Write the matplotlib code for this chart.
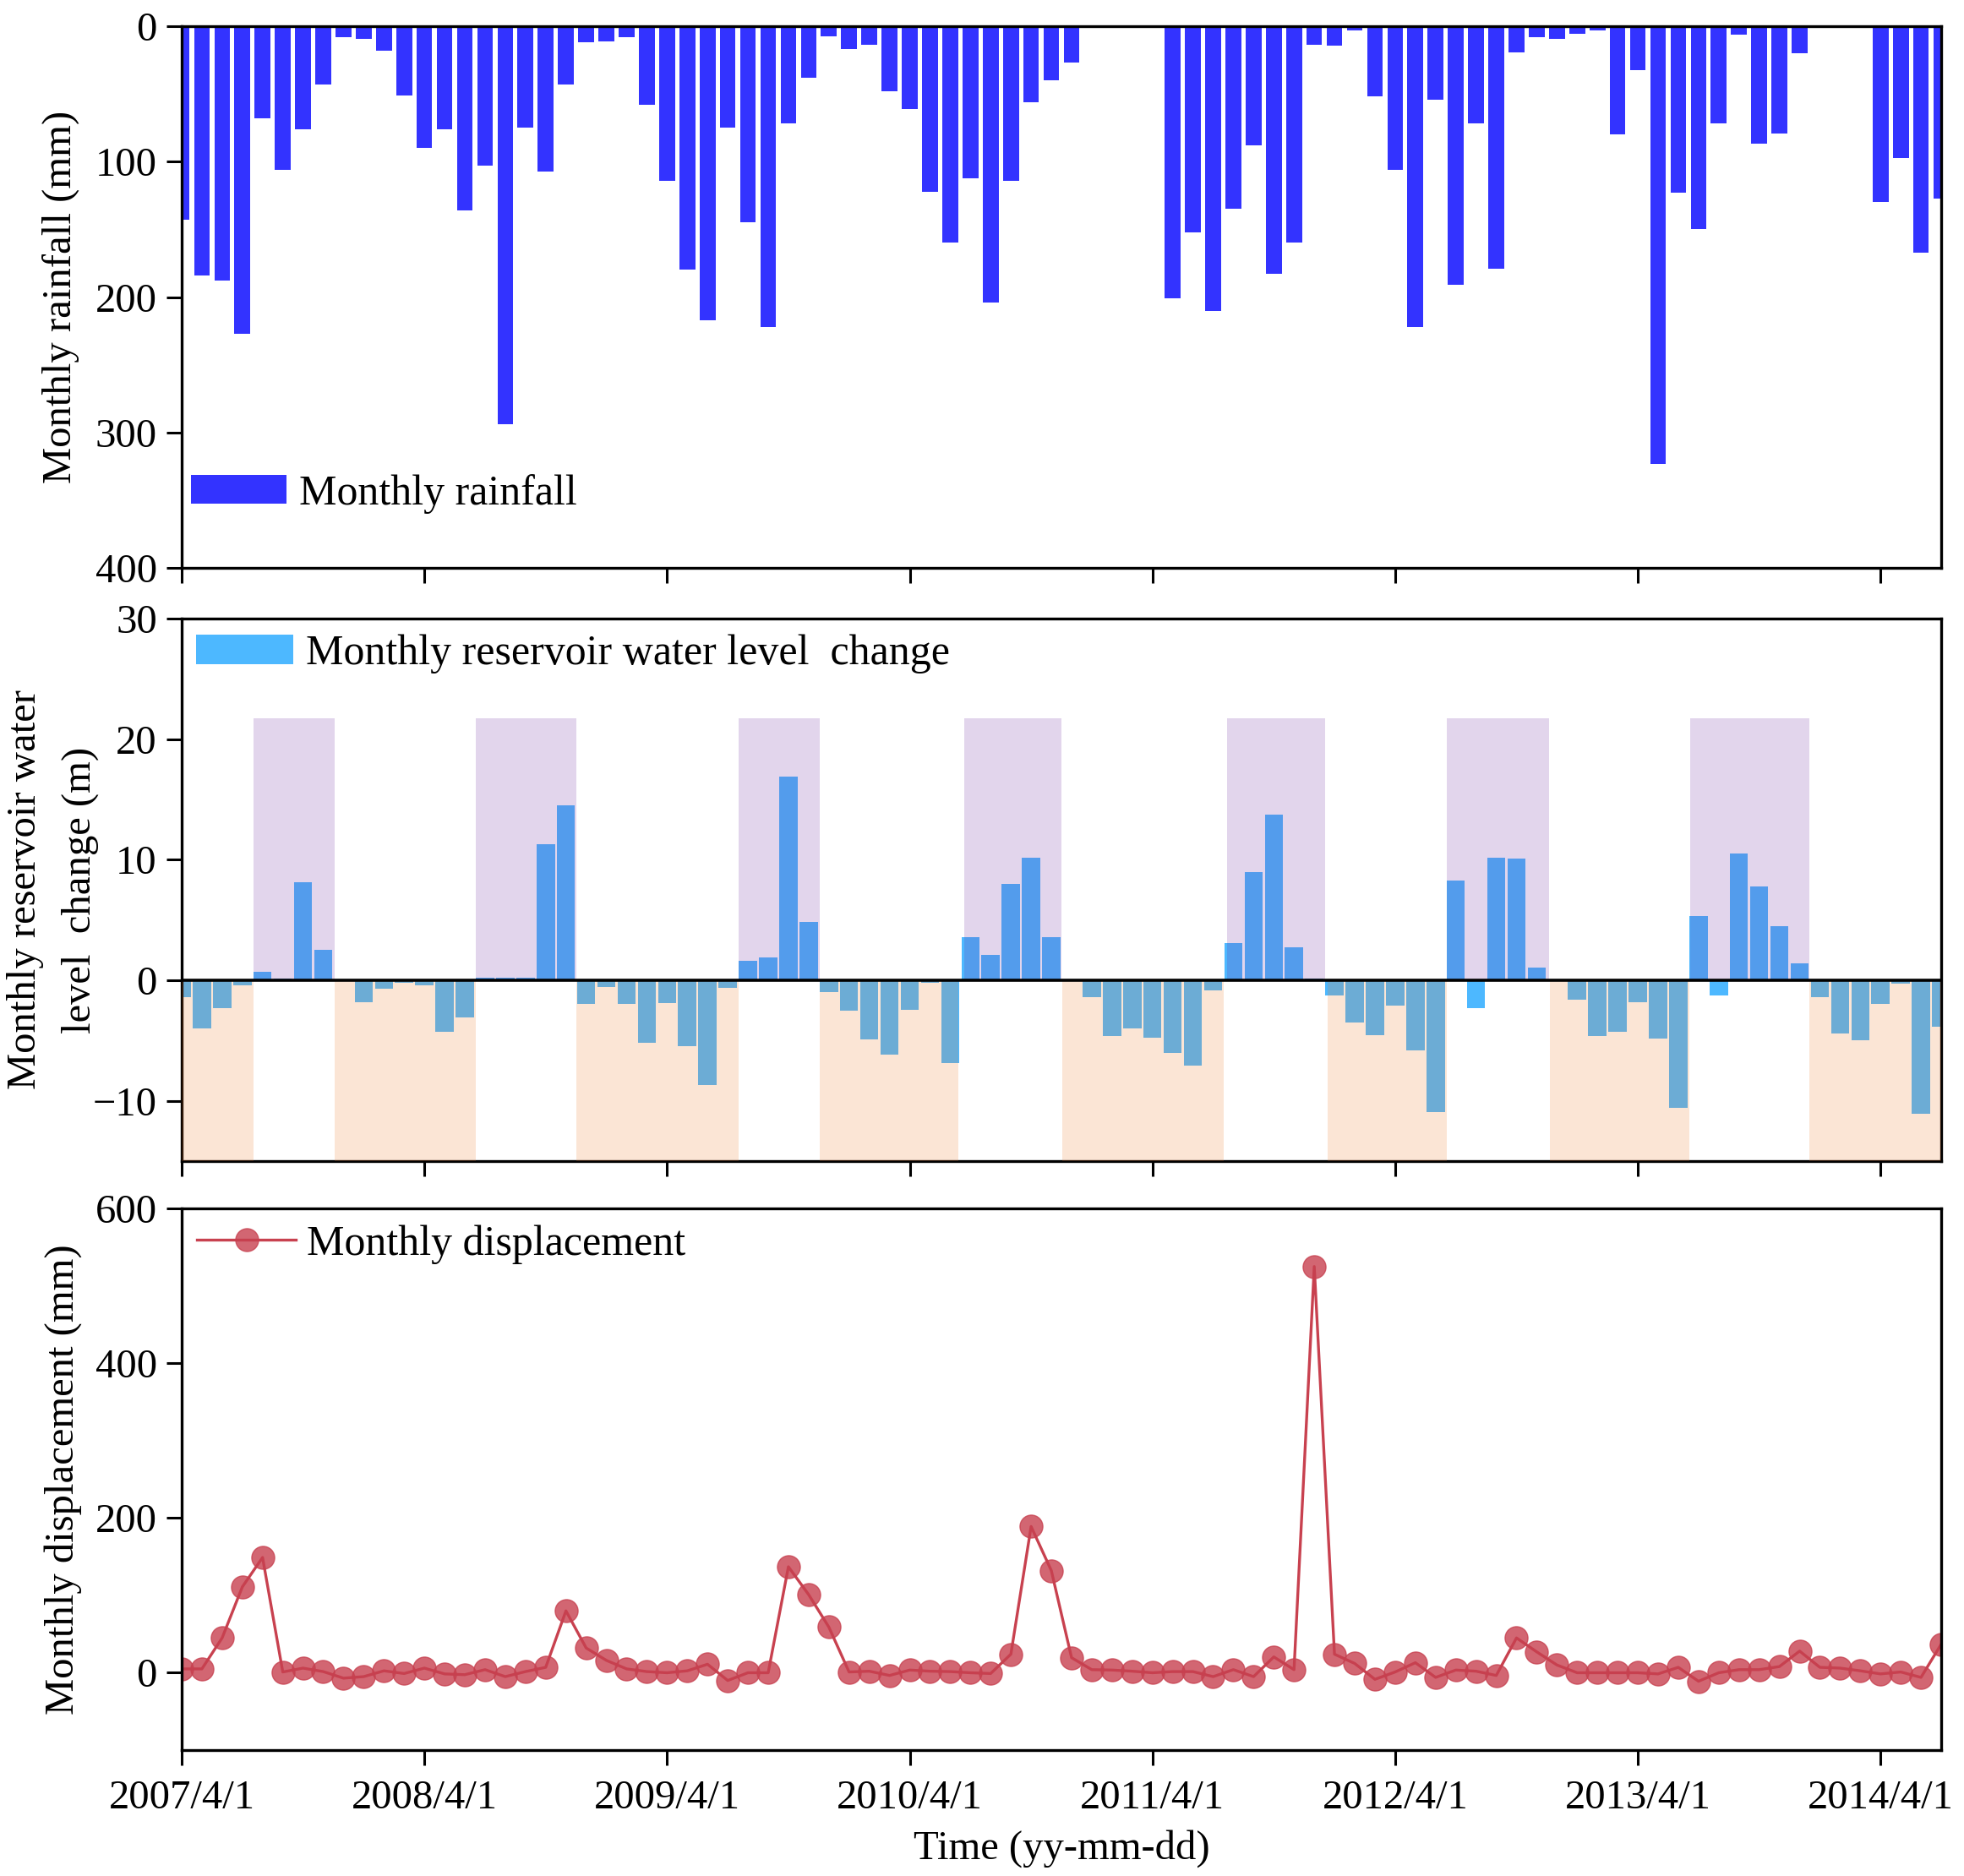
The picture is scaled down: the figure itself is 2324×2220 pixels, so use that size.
import numpy as np
import matplotlib
matplotlib.use("Agg")
import matplotlib.pyplot as plt

plt.rcParams['font.family'] = ['Liberation Serif', 'DejaVu Serif']
plt.rcParams['font.size'] = 35

# months counted from 2007/4/1 (index 0) to 2014/7/1 (index 87)
tick_months = [0, 12, 24, 36, 48, 60, 72, 84]
tick_labels = ['2007/4/1', '2008/4/1', '2009/4/1', '2010/4/1',
               '2011/4/1', '2012/4/1', '2013/4/1', '2014/4/1']

rainfall = [143, 184, 188, 227, 68, 106, 76, 43, 8, 9.5, 18, 51,
            90, 76, 136, 103, 294, 75, 107, 43, 12, 11, 8, 58,
            114, 180, 217, 75, 145, 222, 72, 38, 7.5, 17, 13.5, 48,
            61, 122, 160, 112, 204, 114, 56, 40, 27, 0, 0, 0,
            0, 201, 152, 210, 135, 88, 183, 160, 13.5, 14, 3, 52,
            106, 222, 54, 191, 72, 179, 19.5, 8, 9, 5.5, 3, 80,
            32.5, 323, 123, 150, 72, 6.5, 86.5, 79, 20, 0, 0, 0,
            130, 97, 167, 127]

water_level = [-1.4, -4.0, -2.3, -0.4, 0.7, 0.15, 8.1, 2.5, 0, -1.8, -0.7, -0.2,
               -0.4, -4.25, -3.1, 0.2, 0.2, 0.2, 11.3, 14.5, -2.0, -0.55, -1.95, -5.2,
               -1.9, -5.5, -8.7, -0.6, 1.6, 1.9, 16.9, 4.85, -0.95, -2.5, -4.9, -6.2,
               -2.45, -0.2, -6.9, 3.55, 2.1, 8.0, 10.15, 3.55, 0, -1.4, -4.65, -4.0,
               -4.8, -6.05, -7.05, -0.85, 3.05, 8.95, 13.75, 2.7, 0.15, -1.3, -3.5, -4.55,
               -2.1, -5.85, -10.95, 8.3, -2.3, 10.15, 10.1, 1.05, 0, -1.6, -4.65, -4.25,
               -1.8, -4.85, -10.6, 5.3, -1.25, 10.5, 7.8, 4.5, 1.4, -1.4, -4.4, -4.95,
               -2.0, -0.25, -11.1, -3.85]

displacement = [5, 5, 45, 111, 149, 1, 6, 1.5, -7, -5, 2.5, -1,
                6, -1.5, -2.5, 4, -5, 1.5, 7, 80, 32, 16, 5, 1.5,
                0, 2.5, 11, -10, 0, 0, 137, 101, 59, 1, 2, -3.5,
                3.5, 2, 1.5, 0, -1, 24, 189, 132, 19.5, 4, 3.5, 2,
                0, 1.5, 1.5, -5, 4, -5, 20.5, 4, 525, 24, 12, -8.5,
                1, 13, -6, 3.5, 2, -3.5, 45, 27, 10, 0, 0, 0,
                0, -1.5, 7, -11, 0, 4, 4, 8, 28, 7, 6, 2.5,
                -1.5, 1, -6, 37]

# impoundment / drawdown periods (month offsets)
rise_start = [3.56, 14.54, 27.52, 38.69, 51.67, 62.57, 74.57]
rise_end = [7.56, 19.5, 31.55, 43.52, 56.52, 67.6, 80.48]
fall_start = [0, 7.56, 19.5, 31.55, 43.53, 56.66, 67.64, 80.5]
fall_end = [3.56, 14.54, 27.52, 38.42, 51.53, 62.55, 74.56, 87]
rise_top = 21.75

x = np.arange(len(rainfall))

fig = plt.figure(figsize=(23.24, 22.2), dpi=100)
L, W = 0.0925, 0.8959
ax1 = fig.add_axes([L, 0.6973, W, 0.2887])
ax2 = fig.add_axes([L, 0.3811, W, 0.2892])
ax3 = fig.add_axes([L, 0.0671, W, 0.2887])

# rainfall
ax1.bar(x, rainfall, width=0.78, color='#3333ff', label='Monthly rainfall')
ax1.set_ylim(400, 0)
ax1.set_yticks([0, 100, 200, 300, 400])
ax1.set_ylabel('Monthly rainfall (mm)')
ax1.yaxis.set_label_coords(-0.058, 0.5)
ax1.legend(loc='center left', bbox_to_anchor=(0.0053, 0.137), frameon=False,
           borderaxespad=0, borderpad=0, handlelength=2.25, handleheight=0.68,
           handletextpad=0.3, fontsize=36)

# reservoir level
ax2.bar(x, water_level, width=0.9, color='#4db8ff',
        label='Monthly reservoir water level  change')
for s, e in zip(rise_start, rise_end):
    ax2.fill_between([s, e], 0, rise_top, color='#7030a0', alpha=0.2, lw=0, zorder=3)
for s, e in zip(fall_start, fall_end):
    ax2.fill_between([s, e], -15, 0, color='#ed7d31', alpha=0.2, lw=0, zorder=3)
ax2.axhline(0, color='k', lw=2.6, zorder=4)
ax2.set_ylim(-15, 30)
ax2.set_yticks([-10, 0, 10, 20, 30])
ax2.set_ylabel('Monthly reservoir water\nlevel  change (m)', linespacing=1.6)
ax2.yaxis.set_label_coords(-0.047, 0.5)
ax2.legend(loc='center left', bbox_to_anchor=(0.0082, 0.9346), frameon=False,
           borderaxespad=0, borderpad=0, handlelength=2.3, handleheight=0.68,
           handletextpad=0.3, fontsize=36)

# displacement
mcol = (0.78, 0.25, 0.31, 0.8)
ax3.plot(x, displacement, color='#c8414f', lw=2.4, marker='o', ms=19.5,
         mfc=mcol, mec=mcol, label='Monthly displacement')
ax3.set_ylim(-100, 600)
ax3.set_yticks([0, 200, 400, 600])
ax3.set_ylabel('Monthly displacement (mm)')
ax3.yaxis.set_label_coords(-0.0565, 0.5)
ax3.set_xlabel('Time (yy-mm-dd)', labelpad=11)
ax3.legend(loc='center left', bbox_to_anchor=(0.0086, 0.934), frameon=False,
           borderaxespad=0, borderpad=0, handlelength=2.35, numpoints=1,
           handletextpad=0.25, fontsize=36)

for ax in (ax1, ax2, ax3):
    ax.set_xlim(0, 87)
    ax.set_xticks(tick_months)
    ax.set_xticklabels(tick_labels)
    for sp in ax.spines.values():
        sp.set_linewidth(2.4)
    ax.tick_params(axis='both', direction='out', length=13, width=2.2)
    ax.tick_params(axis='x', pad=12)
    ax.tick_params(axis='y', pad=8)
ax1.tick_params(axis='x', labelbottom=False)
ax2.tick_params(axis='x', labelbottom=False)

fig.savefig('out.png', dpi=100)
